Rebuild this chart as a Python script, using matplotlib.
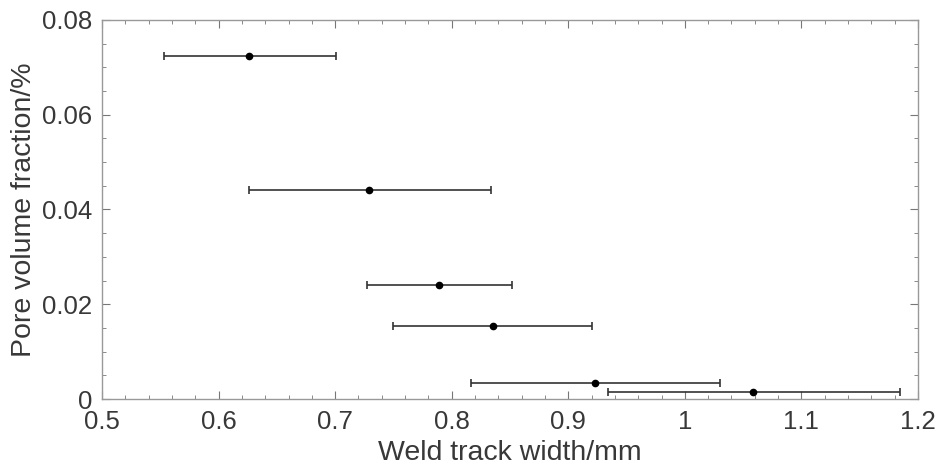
import matplotlib
matplotlib.use("Agg")
import matplotlib.pyplot as plt
from matplotlib.ticker import MultipleLocator, FuncFormatter
import numpy as np

width = [0.6264, 0.7293, 0.7891, 0.8351, 0.9229, 1.0588]
pore = [0.0724, 0.04405, 0.02413, 0.01548, 0.00345, 0.00148]
err_low = [0.6264 - 0.5529, 0.7293 - 0.6258, 0.7891 - 0.7271, 0.8351 - 0.7499, 0.9229 - 0.8168, 1.0588 - 0.9341]
err_high = [0.7005 - 0.6264, 0.8337 - 0.7293, 0.8517 - 0.7891, 0.9206 - 0.8351, 1.0301 - 0.9229, 1.1846 - 1.0588]

plt.rcParams['font.family'] = ['Liberation Sans', 'DejaVu Sans']

fig = plt.figure(figsize=(9.37, 4.67), dpi=100)
ax = fig.add_axes([0.1089, 0.1456, 0.8708, 0.8116])

ax.errorbar(width, pore, xerr=[err_low, err_high], fmt='o', color='black',
            ecolor='#333333', elinewidth=1.2, capsize=3, capthick=1.2, markersize=4.5)

ax.set_xlim(0.5, 1.2)
ax.set_ylim(0, 0.08)
ax.xaxis.set_major_locator(MultipleLocator(0.1))
ax.xaxis.set_minor_locator(MultipleLocator(0.02))
ax.yaxis.set_major_locator(MultipleLocator(0.02))
ax.yaxis.set_minor_locator(MultipleLocator(0.005))

def fmt(v, pos):
    s = f"{v:.2f}".rstrip('0').rstrip('.')
    return s
ax.xaxis.set_major_formatter(FuncFormatter(fmt))
ax.yaxis.set_major_formatter(FuncFormatter(fmt))

for s in ax.spines.values():
    s.set_color('#999999')
    s.set_linewidth(1.0)
ax.tick_params(which='both', direction='in', top=True, right=True, colors='#777777',
               labelcolor='#383838', labelsize=18.5)
ax.tick_params(which='major', length=6)
ax.tick_params(which='minor', length=3)
ax.tick_params(axis='x', pad=8)
ax.tick_params(axis='y', pad=7)

ax.set_xlabel('Weld track width/mm', fontsize=20.5, color='#383838', labelpad=4)
ax.set_ylabel('Pore volume fraction/%', fontsize=20.5, color='#383838', labelpad=4)

fig.savefig('out.png', dpi=100)
